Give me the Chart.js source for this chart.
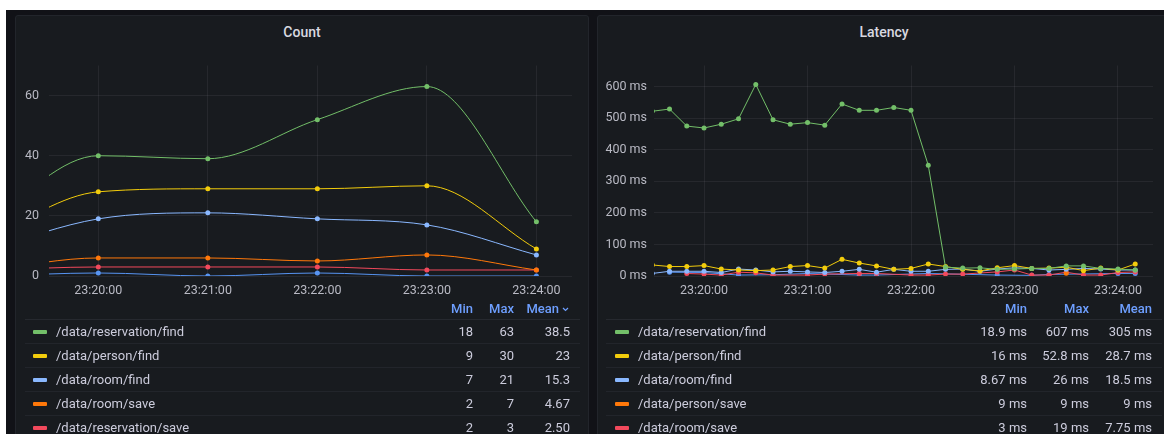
<!DOCTYPE html>
<html>
<head>
<meta charset="utf-8">
<script src="https://cdn.jsdelivr.net/npm/chart.js@4.4.1/dist/chart.umd.min.js"></script>
<style>
  body { margin: 0; width: 1164px; height: 434px; overflow: hidden; background: #fff; position: relative; font-family: Roboto, "Open Sans", sans-serif; }
  #frame { position: absolute; left: 6px; top: 10px; width: 1158px; height: 424px; background: #111217; }
  .panel { position: absolute; top: 15px; height: 440px; background: #181b1f; border: 1px solid #22252b; border-radius: 3px; box-sizing: border-box; }
  .title { position: absolute; top: 23px; height: 18px; line-height: 18px; text-align: center; color: #d8d9e0; font-size: 14px; font-weight: 500; }
  canvas { position: absolute; }
  table.legend { position: absolute; border-collapse: collapse; font-size: 13px; color: #ccccdc; table-layout: fixed; }
  table.legend th { color: #6e9fff; font-weight: 500; text-align: right; height: 21px; padding: 0; border-bottom: 1px solid #26292f; }
  table.legend td { height: 23px; padding: 0; text-align: right; border-bottom: 1px solid #22252b; white-space: nowrap; }
  table.legend td.name { text-align: left; }
  .sw { display: inline-block; width: 14px; height: 4px; border-radius: 1px; vertical-align: middle; margin-right: 9px; position: relative; top: -1px; }
</style>
</head>
<body>
<div id="frame"></div>
<div class="panel" style="left:15px;width:574px"></div>
<div class="panel" style="left:597px;width:600px"></div>
<div class="title" style="left:15px;width:574px">Count</div>
<div class="title" style="left:597px;width:574px">Latency</div>
<canvas id="countChart" style="left:16px;top:48px" width="566" height="257"></canvas>
<canvas id="latencyChart" style="left:598px;top:51px" width="566" height="254"></canvas>
<table class="legend" id="countLegend" style="left:25px;top:298px;width:555px"></table>
<table class="legend" id="latencyLegend" style="left:606px;top:298px;width:556px"></table>
<script>
// x values are seconds after 23:19:00
const xTickValues = [60, 120, 180, 240, 300];
const xTickLabels = ["23:20:00", "23:21:00", "23:22:00", "23:23:00", "23:24:00"];

// Count panel
const countTimes = [0, 60, 120, 180, 240, 300];
const countReservationFind = [19, 40, 39, 52, 63, 18];
const countPersonFind = [13, 28, 29, 29, 30, 9];
const countRoomFind = [9, 19, 21, 19, 17, 7];
const countRoomSave = [2, 6, 6, 5, 7, 2];
const countReservationSave = [2, 3, 3, 3, 2, 2];
const countOther = [0, 1, 0, 1, 0, 0];
const countYTicks = [0, 20, 40, 60];

// Latency panel (ms), every 10 s
const latencyTimes = [30, 40, 50, 60, 70, 80, 90, 100, 110, 120, 130, 140, 150, 160, 170,
  180, 190, 200, 210, 220, 230, 240, 250, 260, 270, 280, 290, 300, 310];
const latReservationFind = [522, 529, 475, 469, 481, 498, 607, 495, 481, 486, 478, 545, 525, 525, 534,
  525, 351, 28, 25, 26, 21, 22, 24, 24, 32, 32, 24, 22, 19];
const latPersonFind = [35, 30, 30, 33, 22, 19, 17, 19, 30, 33, 25, 52.8, 41, 32, 21,
  24, 38, 30, 21, 16, 26, 33, 24, 25, 28, 17, 25, 19, 38];
const latRoomFind = [8, 15, 15, 15, 11, 22, 19, 13, 15, 13, 11, 15, 21, 12, 21,
  15, 15, 21, 22, 15, 22, 26, 24, 19, 21, 24, 22, 19, 19];
const latPersonSave = [null, null, null, null, null, null, null, null, null, null, null, null, null, null, null,
  null, null, null, null, null, null, null, null, null, 9, null, null, null, null];
const latRoomSave = [null, null, 8, 6, 3, 12, 10, 3, null, 3, 6, null, 8, 8, null,
  3, 3, 6, 6, null, 13, 19, 3, 3, 12, 3, 3, 11, 13];
const latReservationSave = [null, 12, null, 11, null, 3, null, 4, null, 8, null, null, 3, 3, null,
  null, 8, null, null, null, 3, null, 2, 5, null, null, null, 8, 8];
const latencyYTicks = [0, 100, 200, 300, 400, 500, 600];

// legends
const countLegendNames = ["/data/reservation/find", "/data/person/find", "/data/room/find", "/data/room/save", "/data/reservation/save"];
const countLegendMin = ["18", "9", "7", "2", "2"];
const countLegendMax = ["63", "30", "21", "7", "3"];
const countLegendMean = ["38.5", "23", "15.3", "4.67", "2.50"];
const latencyLegendNames = ["/data/reservation/find", "/data/person/find", "/data/room/find", "/data/person/save", "/data/room/save"];
const latencyLegendMin = ["18.9 ms", "16 ms", "8.67 ms", "9 ms", "3 ms"];
const latencyLegendMax = ["607 ms", "52.8 ms", "26 ms", "9 ms", "19 ms"];
const latencyLegendMean = ["305 ms", "28.7 ms", "18.5 ms", "9 ms", "7.75 ms"];

const GREEN = "#73BF69", YELLOW = "#F2CC0C", LBLUE = "#8AB8FF", ORANGE = "#FF780A", RED = "#F2495C", BLUE = "#5794F2";
const countColors = [GREEN, YELLOW, LBLUE, ORANGE, RED];
const latencyColors = [GREEN, YELLOW, LBLUE, ORANGE, RED];

const gridColor = "rgba(204,204,220,0.08)";
const tickColor = "#b9bac4";
const tickFont = { family: "Roboto", size: 12.5 };

function series(times, values, color, smooth) {
  return {
    data: times.map((t, i) => ({ x: t, y: values[i] })),
    borderColor: color,
    backgroundColor: color,
    borderWidth: 1,
    pointRadius: 2.5,
    pointBorderWidth: 0,
    pointBackgroundColor: color,
    cubicInterpolationMode: smooth ? "monotone" : "default",
    tension: 0,
    spanGaps: true,
  };
}

function makeChart(id, datasets, o) {
  return new Chart(document.getElementById(id), {
    type: "line",
    data: { datasets: datasets },
    options: {
      responsive: false,
      animation: false,
      events: [],
      layout: { padding: o.padding },
      plugins: { legend: { display: false }, tooltip: { enabled: false } },
      scales: {
        x: {
          type: "linear",
          min: o.xMin, max: o.xMax,
          afterBuildTicks: (s) => { s.ticks = xTickValues.map((v) => ({ value: v })); },
          afterFit: (s) => { s.height = o.xHeight; },
          grid: { color: gridColor, drawTicks: false },
          border: { display: false },
          ticks: {
            color: tickColor, font: tickFont, padding: 7, maxRotation: 0, autoSkip: false,
            callback: (v) => xTickLabels[xTickValues.indexOf(v)],
          },
        },
        y: {
          min: 0, max: o.yMax,
          afterBuildTicks: (s) => { s.ticks = o.yTicks.map((v) => ({ value: v })); },
          afterFit: (s) => { s.width = o.yWidth; },
          grid: { color: gridColor, drawTicks: false },
          border: { display: false },
          ticks: { color: tickColor, font: tickFont, padding: o.yPad, callback: o.yLabel },
        },
      },
    },
  });
}

makeChart("countChart", [
  series(countTimes, countReservationFind, GREEN, true),
  series(countTimes, countPersonFind, YELLOW, true),
  series(countTimes, countRoomFind, LBLUE, true),
  series(countTimes, countRoomSave, ORANGE, true),
  series(countTimes, countReservationSave, RED, true),
  series(countTimes, countOther, BLUE, true),
], { xMin: 33, xMax: 319.5, yMax: 70, yTicks: countYTicks, yWidth: 33, xHeight: 29, yPad: 10,
     padding: { top: 6, right: 10, bottom: 0, left: 0 }, yLabel: (v) => String(v) });

makeChart("latencyChart", [
  series(latencyTimes, latReservationFind, GREEN, false),
  series(latencyTimes, latPersonFind, YELLOW, false),
  series(latencyTimes, latRoomFind, LBLUE, false),
  series(latencyTimes, latPersonSave, ORANGE, false),
  series(latencyTimes, latRoomSave, RED, false),
  series(latencyTimes, latReservationSave, BLUE, false),
], { xMin: 31, xMax: 320.3, yMax: 667, yTicks: latencyYTicks, yWidth: 56, xHeight: 29, yPad: 7,
     padding: { top: 6, right: 11, bottom: 0, left: 0 }, yLabel: (v) => v + " ms" });

function buildLegend(id, names, mins, maxs, means, colors, cols, sorted) {
  const t = document.getElementById(id);
  let h = '<colgroup><col style="width:' + cols[0] + 'px"><col style="width:' + cols[1] + 'px"><col style="width:' + cols[2] + 'px"><col style="width:' + cols[3] + 'px"></colgroup>';
  h += '<tr><th></th><th>Min</th><th>Max</th><th style="padding-right:10px">Mean' +
    (sorted ? '<svg width="9" height="8" style="margin-left:2px" viewBox="0 0 9 8"><path d="M2 3 L4.5 5.5 L7 3" stroke="#6e9fff" stroke-width="1.2" fill="none"/></svg>' : '') + '</th></tr>';
  names.forEach((n, i) => {
    h += '<tr><td class="name" style="padding-left:' + cols[4] + 'px"><span class="sw" style="background:' + colors[i] + '"></span>' + n +
      '</td><td>' + mins[i] + '</td><td>' + maxs[i] + '</td><td style="padding-right:10px">' + means[i] + '</td></tr>';
  });
  t.innerHTML = h;
}
buildLegend("countLegend", countLegendNames, countLegendMin, countLegendMax, countLegendMean, countColors, [405, 43, 41, 66, 8], true);
buildLegend("latencyLegend", latencyLegendNames, latencyLegendMin, latencyLegendMax, latencyLegendMean, latencyColors, [354, 67, 62, 73, 9], false);
</script>
</body>
</html>
